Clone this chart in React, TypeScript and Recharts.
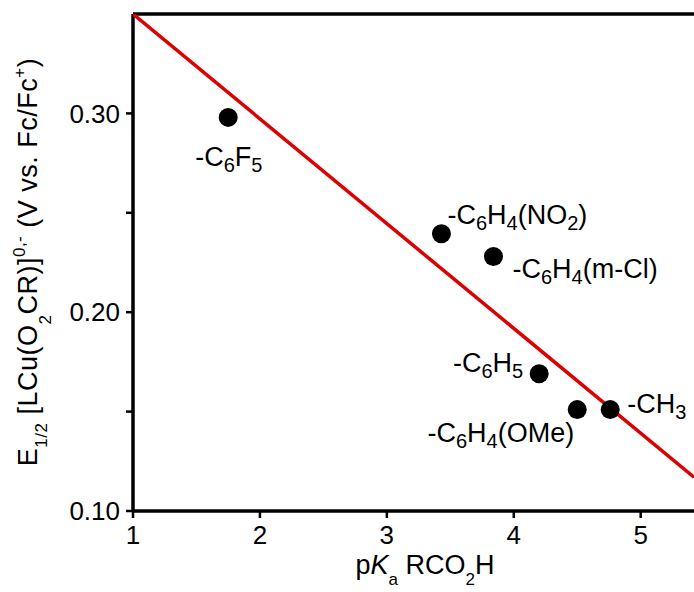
import { Label, ReferenceLine, Scatter, ScatterChart, XAxis, YAxis } from "recharts";

// pKa of RCO2H vs E1/2 of LCu(O2CR)
const pKa = [1.75, 3.43, 3.84, 4.2, 4.5, 4.76];
const e12 = [0.298, 0.2395, 0.228, 0.169, 0.151, 0.151];
const groups = ["-C6F5", "-C6H4(NO2)", "-C6H4(m-Cl)", "-C6H5", "-C6H4(OMe)", "-CH3"];

// linear fit end points
const fitX = [1, 5.42];
const fitY = [0.35, 0.117];

const xTicks = [1, 2, 3, 4, 5];
const yTicks = [0.1, 0.15, 0.2, 0.25, 0.3];

const points = pKa.map((x, i) => ({ x, y: e12[i], name: groups[i] }));
const fit = fitX.map((x, i) => ({ x, y: fitY[i] }));

// label placement relative to the dot centre
const LABEL_POS: Record<string, { dx: number; dy: number; anchor: "start" | "end" }> = {
  "-C6F5": { dx: -33, dy: 49, anchor: "start" },
  "-C6H4(NO2)": { dx: 6, dy: -10, anchor: "start" },
  "-C6H4(m-Cl)": { dx: 19, dy: 21, anchor: "start" },
  "-C6H5": { dx: -16, dy: -2, anchor: "end" },
  "-C6H4(OMe)": { dx: -3, dy: 32, anchor: "end" },
  "-CH3": { dx: 17, dy: 3, anchor: "start" },
};

const FONT = "'Liberation Sans', Arial, sans-serif";
const RED = "#dd0000";

function chemSpans(s: string, sub: number, shift: number) {
  const parts = s.split(/(\d+)/).filter((p) => p.length > 0);
  let down = false;
  return parts.map((p, i) => {
    const isNum = /^\d+$/.test(p);
    let dy = 0;
    if (isNum && !down) {
      dy = shift;
      down = true;
    } else if (!isNum && down) {
      dy = -shift;
      down = false;
    }
    return (
      <tspan key={i} dy={dy} fontSize={isNum ? sub : undefined}>
        {p}
      </tspan>
    );
  });
}

function Dot(props: any) {
  const { cx, cy, payload } = props;
  const pos = LABEL_POS[payload.name];
  return (
    <g>
      <circle cx={cx} cy={cy} r={9.5} fill="#000" />
      <text
        x={cx + pos.dx}
        y={cy + pos.dy}
        textAnchor={pos.anchor}
        fontSize={27}
        fontFamily={FONT}
        fill="#000"
      >
        {chemSpans(payload.name, 20, 6)}
      </text>
    </g>
  );
}

function XTitle() {
  return (
    <text x={425} y={574} textAnchor="middle" fontSize={27} fontFamily={FONT} fill="#000">
      <tspan>p</tspan>
      <tspan fontStyle="italic">K</tspan>
      <tspan fontSize={17} dy={11}>a</tspan>
      <tspan dy={-11}> RCO</tspan>
      <tspan fontSize={17} dy={11}>2</tspan>
      <tspan dy={-11}>H</tspan>
    </text>
  );
}

function YTitle() {
  return (
    <text
      x={37}
      y={262}
      transform="rotate(-90, 37, 262)"
      textAnchor="middle"
      fontSize={27}
      fontFamily={FONT}
      letterSpacing={0.5}
      fill="#000"
    >
      <tspan>E</tspan>
      <tspan fontSize={17} dy={10}>1/2</tspan>
      <tspan dy={-10}> [LCu(O</tspan>
      <tspan fontSize={17} dy={14}>2</tspan>
      <tspan dy={-14}>CR)]</tspan>
      <tspan fontSize={17} dy={-12}>0,-</tspan>
      <tspan dy={12}> (V vs. Fc/Fc</tspan>
      <tspan fontSize={17} dy={-12}>+</tspan>
      <tspan dy={12}>)</tspan>
    </text>
  );
}

export default function App() {
  return (
    <div style={{ position: "absolute", left: 0, top: 0, background: "#fff" }}>
      <ScatterChart width={694} height={592} margin={{ top: 14, right: 0, bottom: 0, left: 0 }}>
        <XAxis
          type="number"
          dataKey="x"
          domain={[1, 5.42]}
          ticks={xTicks}
          interval={0}
          height={81}
          axisLine={{ stroke: "#000", strokeWidth: 3.5 }}
          tickLine={{ stroke: "#000", strokeWidth: 2.5 }}
          tickSize={7}
          tickMargin={8}
          tick={{ fontSize: 26, fill: "#000", fontFamily: FONT }}
          allowDataOverflow
        >
          <Label content={() => <XTitle />} />
        </XAxis>
        <YAxis
          type="number"
          dataKey="y"
          domain={[0.1, 0.35]}
          ticks={yTicks}
          interval={0}
          width={133}
          axisLine={{ stroke: "#000", strokeWidth: 3.5 }}
          tickLine={{ stroke: "#000", strokeWidth: 2.5 }}
          tickSize={7}
          tickMargin={6}
          tick={{ fontSize: 26, fill: "#000", fontFamily: FONT }}
          tickFormatter={(v: number) => (Math.round(v * 100) % 10 === 0 ? v.toFixed(2) : "")}
          allowDataOverflow
        >
          <Label content={() => <YTitle />} />
        </YAxis>
        <ReferenceLine y={0.35} stroke="#000" strokeWidth={3.5} />
        <Scatter
          data={fit}
          line={{ stroke: RED, strokeWidth: 3.5 }}
          shape={() => <g />}
          isAnimationActive={false}
        />
        <Scatter data={points} shape={(p: any) => <Dot {...p} />} isAnimationActive={false} />
      </ScatterChart>
    </div>
  );
}
